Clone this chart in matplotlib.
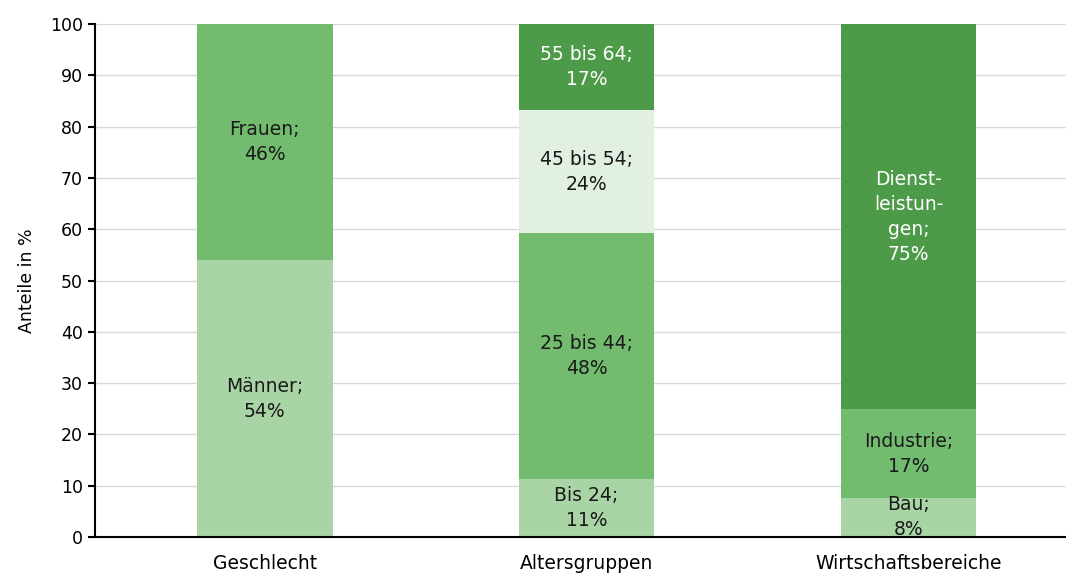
import matplotlib
matplotlib.use("Agg")
import matplotlib.pyplot as plt

plt.rcParams['font.family'] = ['DejaVu Sans']

categories = ["Geschlecht", "Altersgruppen", "Wirtschaftsbereiche"]

# segments per category, bottom to top
seg_labels = [
    ["Männer", "Frauen"],
    ["Bis 24", "25 bis 44", "45 bis 54", "55 bis 64"],
    ["Bau", "Industrie", "Dienst-\nleistun-\ngen"],
]
seg_values = [
    [54.0, 46.0],
    [11.3, 48.0, 23.9, 16.8],
    [7.6, 17.3, 75.1],
]
seg_pct = [
    ["54%", "46%"],
    ["11%", "48%", "24%", "17%"],
    ["8%", "17%", "75%"],
]

light = "#A9D5A6"
mid = "#72BB6F"
dark = "#4D9A49"
pale = "#E2F0E1"
seg_colors = [
    [light, mid],
    [light, mid, pale, dark],
    [light, mid, dark],
]
text_colors = [
    ["#1a1a1a", "#1a1a1a"],
    ["#1a1a1a", "#1a1a1a", "#1a1a1a", "white"],
    ["#1a1a1a", "#1a1a1a", "white"],
]

fig = plt.figure(figsize=(10.66, 5.74), dpi=100)
ax = fig.add_axes([0.089, 0.0645, 0.911, 0.8935])

for i, cat in enumerate(categories):
    bottom = 0
    for lab, val, pct, col, tcol in zip(seg_labels[i], seg_values[i], seg_pct[i],
                                        seg_colors[i], text_colors[i]):
        ax.bar(i, val, bottom=bottom, width=0.422, color=col, zorder=2)
        ax.text(i, bottom + val / 2, lab + ";\n" + pct, ha="center", va="center",
                fontsize=13.5, color=tcol, zorder=3, linespacing=1.4)
        bottom += val

ax.set_xlim(-0.527, 2.489)
ax.set_ylim(0, 100)
ax.set_yticks(range(0, 101, 10))
ax.set_xticks(range(len(categories)))
ax.set_xticklabels(categories)
ax.tick_params(axis="x", length=0, labelsize=13.5, pad=12)
ax.tick_params(axis="y", length=5, width=1.5, labelsize=12.5, direction="out")
ax.set_ylabel("Anteile in %", fontsize=12.5, labelpad=10)
ax.yaxis.grid(True, color="#D9D9D9", linewidth=1, zorder=0)
ax.set_axisbelow(True)
for s in ["top", "right"]:
    ax.spines[s].set_visible(False)
ax.spines["left"].set_linewidth(1.5)
ax.spines["bottom"].set_linewidth(1.5)
ax.spines["bottom"].set_zorder(4)

fig.savefig("out.png", dpi=100)
